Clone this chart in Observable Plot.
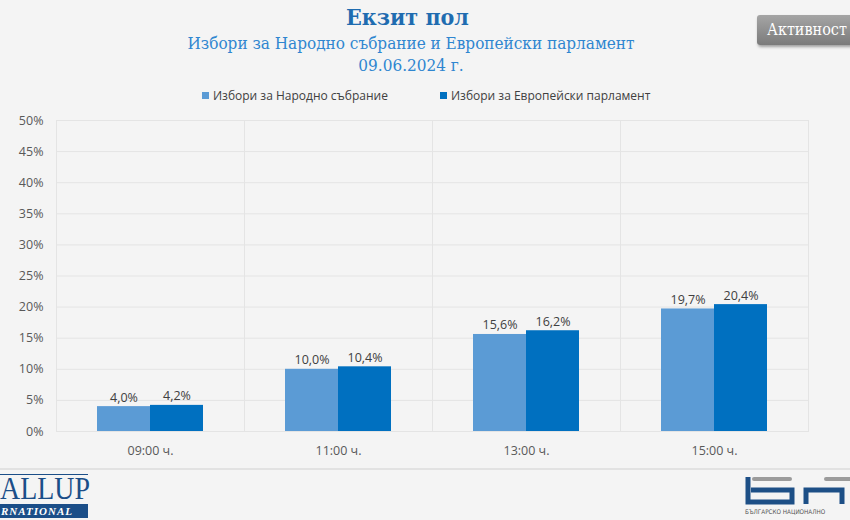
<!DOCTYPE html>
<html>
<head>
<meta charset="utf-8">
<script src="https://cdn.jsdelivr.net/npm/d3@7"></script>
<script src="https://cdn.jsdelivr.net/npm/@observablehq/plot@0.6"></script>
<style>
  html, body { margin: 0; padding: 0; background: #f4f4f4; }
  #page { position: relative; width: 850px; height: 520px; background: #f4f4f4; overflow: hidden; font-family: "Open Sans", sans-serif; }
  .abs { position: absolute; }
  .serif { font-family: "DejaVu Serif", "Liberation Serif", serif; font-stretch: condensed; }
  #title { left: 0; width: 815px; top: 3px; text-align: center; font-weight: bold; font-size: 23px; color: #1f6cb0; }
  #subtitle { left: 0; width: 822px; top: 32px; text-align: center; font-size: 17px; color: #2f86d0; line-height: 22px; }
  #btn { left: 757px; top: 15px; width: 110px; height: 30px; background: linear-gradient(#a5a5a5, #7b7b7b); border-radius: 3px; box-shadow: 1px 2px 3px rgba(0,0,0,0.35); color: #fff; font-size: 16px; line-height: 30px; padding-left: 10px; box-sizing: border-box; white-space: nowrap; }
  #legend { left: 0; width: 850px; top: 87px; font-size: 12px; color: #404040; }
  .li { position: absolute; display: flex; align-items: center; white-space: nowrap; }
  .sw { width: 7px; height: 7px; margin-right: 4px; }
  #footline { left: 0; top: 468px; width: 850px; height: 2px; background: #e2e2e2; }
  #gallup { left: 0; top: 474px; width: 88px; font-family: "Liberation Serif", serif; color: #1b4e88; }
  #bnr { left: 742px; top: 474px; }
</style>
</head>
<body>
<div id="page">
  <div id="title" class="abs serif">Екзит пол</div>
  <div id="subtitle" class="abs serif">Избори за Народно събрание и Европейски парламент<br>09.06.2024 г.</div>
  <div id="btn" class="abs serif">Активност</div>
  <div id="legend" class="abs"></div>
  <div id="chart" class="abs" style="left:0;top:110px;"></div>
  <div id="footline" class="abs"></div>
  <div id="gallup" class="abs">
    <div style="width:88px;height:1px;background:#1b4e88;"></div>
    <div style="font-size:31px;line-height:27px;transform:scaleX(0.9);transform-origin:left;white-space:nowrap;">ALLUP</div>
    <div style="margin-top:2px;background:#1b4e88;color:#fff;font-size:11px;font-style:italic;font-weight:bold;line-height:14px;width:88px;">
      <div style="white-space:nowrap;letter-spacing:1px;padding-left:1px;">RNATIONAL</div>
    </div>
  </div>
  <div id="bnr" class="abs">
    <svg width="108" height="46">
      <rect x="10" y="3" width="40" height="4" rx="2" fill="#9b9b9b"/>
      <rect x="82" y="3" width="30" height="4" rx="2" fill="#9b9b9b"/>
      <path d="M6 3 V28 H50 V16 H9" fill="none" stroke="#1d4f86" stroke-width="5"/>
      <path d="M64 30 V16 H100 V30" fill="none" stroke="#1d4f86" stroke-width="5"/>
      <text x="3" y="40" font-size="6.3" fill="#555" font-family="DejaVu Sans Condensed, DejaVu Sans" font-stretch="condensed">БЪЛГАРСКО НАЦИОНАЛНО</text>
    </svg>
  </div>
</div>
<script>
const times = ["09:00 ч.", "11:00 ч.", "13:00 ч.", "15:00 ч."];
const series = ["Избори за Народно събрание", "Избори за Европейски парламент"];
const national = [4.0, 10.0, 15.6, 19.7];
const european = [4.2, 10.4, 16.2, 20.4];
const colors = ["#5b9bd5", "#0070c0"];
const yTicks = [0, 5, 10, 15, 20, 25, 30, 35, 40, 45, 50];

const data = [];
times.forEach((t, i) => {
  data.push({time: t, series: series[0], value: national[i]});
  data.push({time: t, series: series[1], value: european[i]});
});

// legend
const legend = document.getElementById("legend");
const legendX = [202, 440];
series.forEach((s, i) => {
  const el = document.createElement("div");
  el.className = "li";
  el.style.left = legendX[i] + "px";
  el.innerHTML = `<span class="sw" style="background:${colors[i]}"></span><span>${s}</span>`;
  legend.appendChild(el);
});

const fmt = v => v.toFixed(1).replace(".", ",") + "%";

const chart = Plot.plot({
  width: 850,
  height: 355,
  marginLeft: 55,
  marginRight: 42,
  marginTop: 10,
  marginBottom: 34,
  style: {background: "transparent", fontFamily: "Open Sans, sans-serif", fontSize: "12.5px", color: "#595959", overflow: "visible"},
  fx: {domain: times, padding: 0, axis: "bottom", tickSize: 0, tickPadding: 15, label: null},
  x: {domain: series, axis: null, paddingInner: 0, paddingOuter: 0.76},
  y: {domain: [0, 50], ticks: yTicks, tickFormat: d => d + "%", tickSize: 0, tickPadding: 13, label: null},
  color: {domain: series, range: colors},
  marks: [
    Plot.ruleY(yTicks, {stroke: "#e4e4e4"}),
    Plot.frame({stroke: "#e4e4e4"}),
    Plot.barY(data, {fx: "time", x: "series", y: "value", fill: "series"}),
    Plot.text(data, {fx: "time", x: "series", y: "value", text: d => fmt(d.value), dy: -9, fill: "#404040", fontSize: 12.5})
  ]
});
document.getElementById("chart").appendChild(chart);
</script>
</body>
</html>
